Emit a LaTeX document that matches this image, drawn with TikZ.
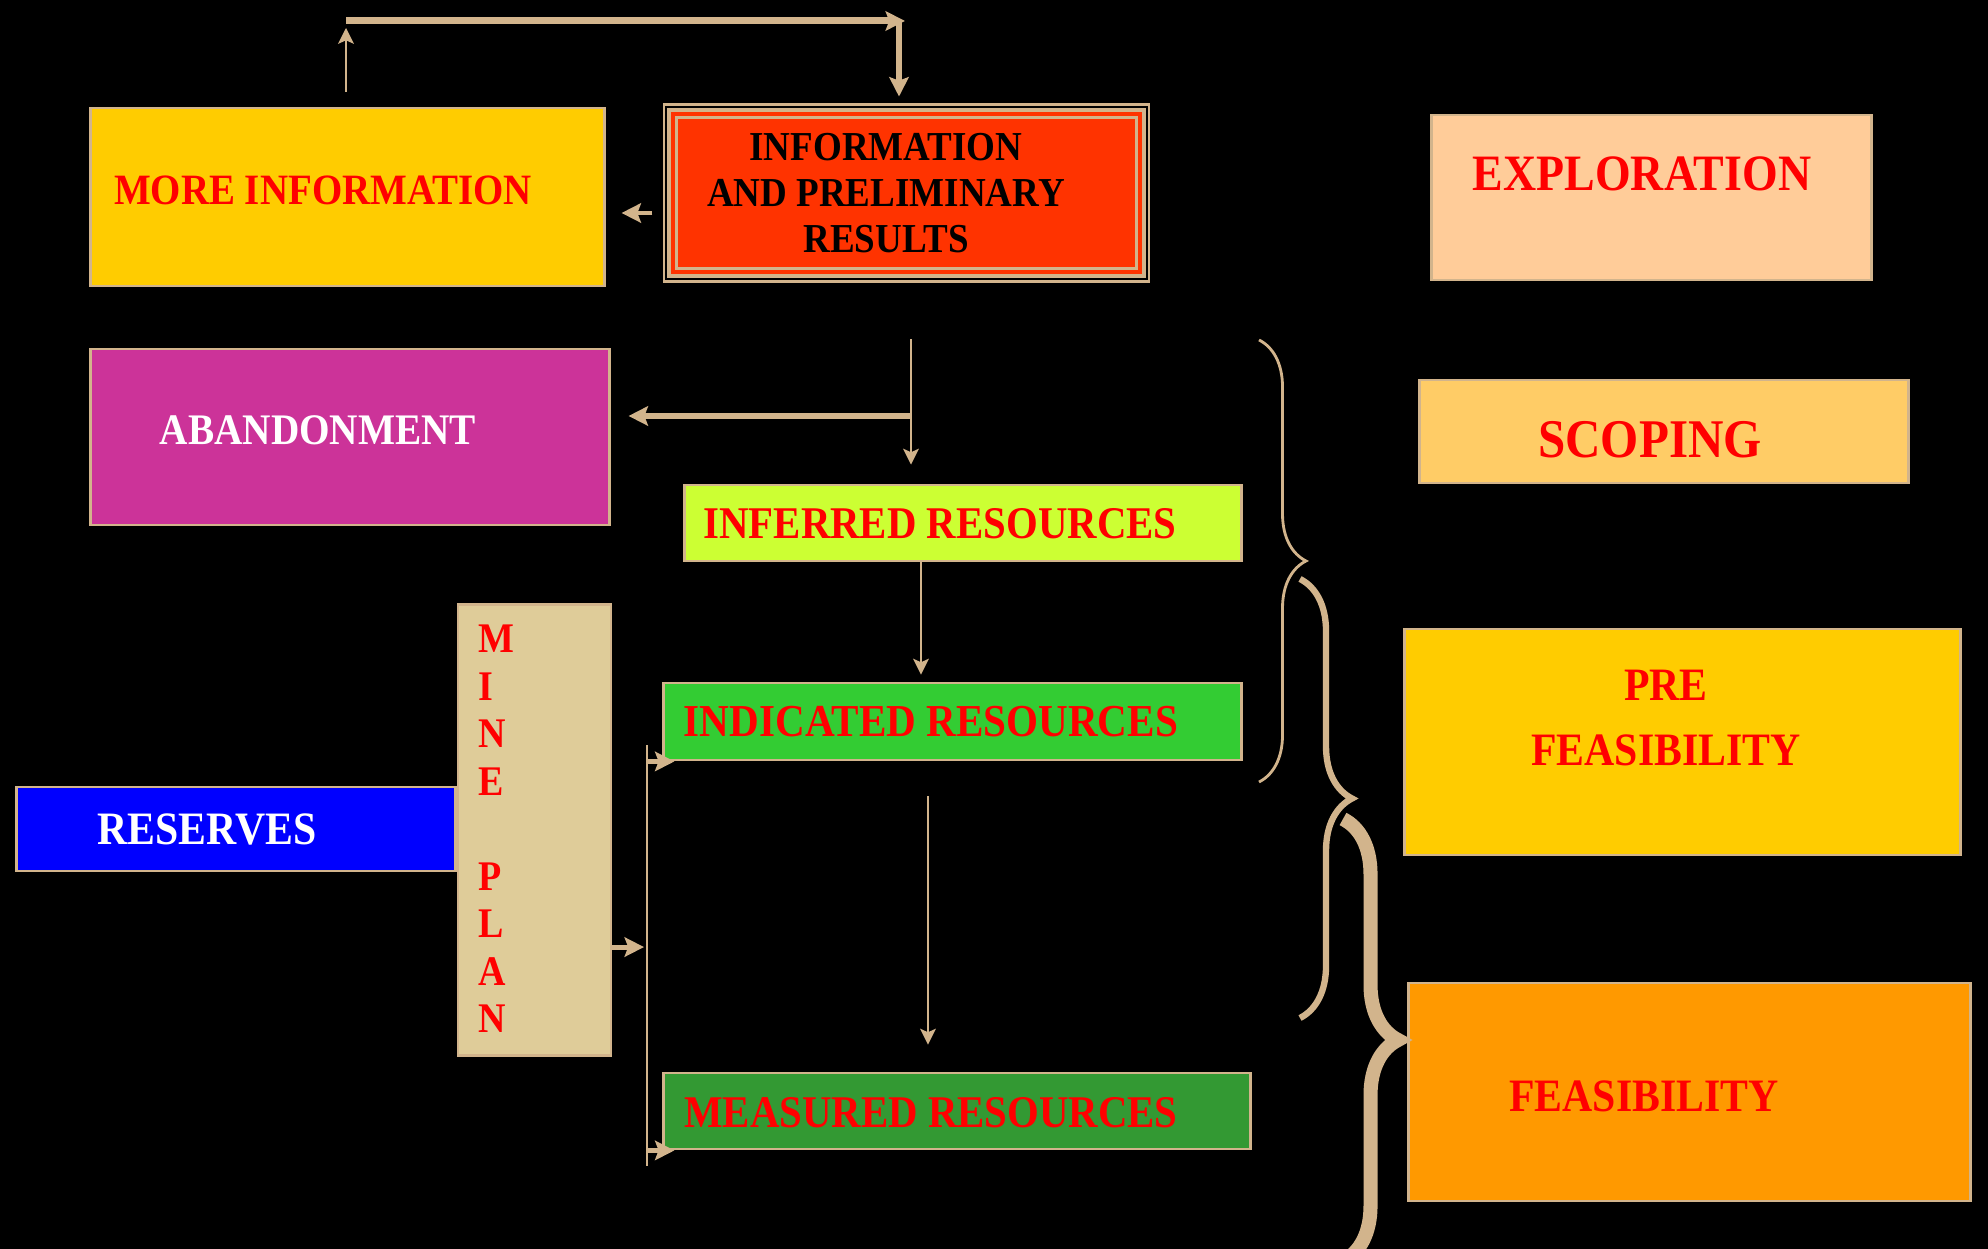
\documentclass[tikz,border=0pt]{standalone}
\usepackage{fontspec}
\setmainfont{Liberation Serif}[FakeStretch=0.9]
\usetikzlibrary{arrows.meta, decorations.pathreplacing}

\definecolor{tanline}{HTML}{D2B48C}
\definecolor{textred}{HTML}{FF0000}
\definecolor{moreyellow}{HTML}{FFCC00}
\definecolor{infored}{HTML}{FF3300}
\definecolor{explorpeach}{HTML}{FFCC99}
\definecolor{abandmagenta}{HTML}{CC3399}
\definecolor{scopingorange}{HTML}{FFCC66}
\definecolor{inferredlime}{HTML}{CCFF33}
\definecolor{minetan}{HTML}{DFCC99}
\definecolor{indicatedgreen}{HTML}{33CC33}
\definecolor{measuredgreen}{HTML}{339933}
\definecolor{reservesblue}{HTML}{0000FF}
\definecolor{feasorange}{HTML}{FF9900}

\begin{document}
\begin{tikzpicture}[x=0.01cm, y=0.01cm,
    box/.style={draw=tanline, fill=#1, line width=0.8pt, inner sep=0pt},
    lbl/.style={text=#1, inner sep=0pt, align=center},
    thinarrow/.style={-{Stealth[length=4.5pt, width=4.5pt, inset=1pt]}, line width=0.6pt, color=tanline},
    thickarrow/.style={-{Stealth[length=5.5pt, width=5.5pt, inset=1pt]}, line width=1.6pt, color=tanline},
    curly/.style={decorate, decoration={brace, amplitude=#1}, color=tanline}
  ]
  % Background
  \useasboundingbox (0,0) rectangle (1988,1249);
  \fill[black] (0,0) rectangle (1988,1249);
  \clip (0,0) rectangle (1988,1249);

  % Top row
  \node[box=moreyellow, minimum width=5.13cm, minimum height=1.78cm] (moreinfo) at (347.5,1052) {};
  \node[lbl=textred, font=\bfseries\fontsize{12.3}{14}\selectfont] (moreinfotxt) at (323,1059) {MORE INFORMATION};

  \node[box=tanline, draw=none, minimum width=4.87cm, minimum height=1.80cm] (info) at (906.5,1056) {};
  \foreach \inset/\col in {4/black, 6/tanline, 10/infored, 14/tanline, 17/infored}
    \fill[\col] ([shift={(\inset,\inset)}]info.south west) rectangle ([shift={(-\inset,-\inset)}]info.north east);
  \node[lbl=black, font=\bfseries\fontsize{11.7}{13.1}\selectfont] (infotxt) at (886,1056) {INFORMATION\\AND PRELIMINARY\\RESULTS};

  \node[box=explorpeach, minimum width=4.39cm, minimum height=1.65cm] (explor) at (1651.5,1051.5) {};
  \node[lbl=textred, font=\bfseries\fontsize{14.5}{17}\selectfont] (explortxt) at (1642,1075) {EXPLORATION};

  % Second row
  \node[box=abandmagenta, minimum width=5.18cm, minimum height=1.76cm] (aband) at (350,812) {};
  \node[lbl=white, font=\bfseries\fontsize{12.4}{14}\selectfont] (abandtxt) at (318,819) {ABANDONMENT};

  \node[box=scopingorange, minimum width=4.88cm, minimum height=1.03cm] (scoping) at (1664,817.5) {};
  \node[lbl=textred, font=\bfseries\fontsize{15.5}{18}\selectfont] (scopingtxt) at (1650,809) {SCOPING};

  % Resources
  \node[box=inferredlime, minimum width=5.56cm, minimum height=0.76cm] (inferred) at (963,726) {};
  \node[lbl=textred, font=\bfseries\fontsize{12.9}{15}\selectfont] (inferredtxt) at (940,725) {INFERRED RESOURCES};

  \node[box=indicatedgreen, minimum width=5.77cm, minimum height=0.77cm] (indicated) at (952.5,527.5) {};
  \node[lbl=textred, font=\bfseries\fontsize{13}{15}\selectfont] (indicatedtxt) at (931,527) {INDICATED RESOURCES};

  \node[box=measuredgreen, minimum width=5.86cm, minimum height=0.76cm] (measured) at (957,138) {};
  \node[lbl=textred, font=\bfseries\fontsize{12.9}{15}\selectfont] (measuredtxt) at (931,136) {MEASURED RESOURCES};

  % Mine plan and reserves
  \node[box=minetan, minimum width=1.53cm, minimum height=4.50cm] (mineplan) at (534.5,419) {};
  \node[lbl=textred, align=left, anchor=west, font=\bfseries\fontsize{12}{13.5}\selectfont] (mineplantxt) at (478,420) {M\\I\\N\\E\\[13.5pt]P\\L\\A\\N};

  \node[box=reservesblue, minimum width=4.38cm, minimum height=0.84cm] (reserves) at (236,420) {};
  \node[lbl=white, font=\bfseries\fontsize{13.2}{15}\selectfont] (reservestxt) at (207,420) {RESERVES};

  % Study stages
  \node[box=moreyellow, minimum width=5.55cm, minimum height=2.26cm] (prefeas) at (1682.5,507) {};
  \node[lbl=textred, font=\bfseries\fontsize{13.2}{18.5}\selectfont] (prefeastxt) at (1666,530.5) {PRE\\FEASIBILITY};

  \node[box=feasorange, minimum width=5.61cm, minimum height=2.18cm] (feas) at (1689.5,157) {};
  \node[lbl=textred, font=\bfseries\fontsize{13.2}{15}\selectfont] (feastxt) at (1644,153) {FEASIBILITY};

  % Braces
  \draw[curly=0.47cm, line width=0.8pt] (1259,909) -- (1259,467);
  \draw[curly=0.52cm, line width=1.8pt] (1300,670) -- (1300,231);
  \draw[curly=0.55cm, line width=4pt] (1343,430) -- (1343,-12);

  % Feedback loop
  \coordinate (loopleft) at (346,1228);
  \coordinate (loopright) at (899,1228);
  \draw[thinarrow, shorten <=0.15cm, shorten >=0.07cm] (moreinfo.north -| loopleft) -- (loopleft);
  \draw[thickarrow, line width=2pt] (loopleft) -- ([xshift=0.06cm]loopright);
  \draw[thickarrow, shorten >=0.05cm] (loopright) -- (loopright |- info.north);

  \coordinate (infoout) at ([yshift=-0.2cm]info.west);
  \draw[thickarrow, line width=1.1pt, shorten <=0.09cm, shorten >=0.16cm] (infoout) -- (infoout -| moreinfo.east);

  % Down the resources
  \coordinate (split) at (911,833);
  \draw[thinarrow, shorten <=0.55cm, shorten >=0.19cm] (split |- info.south) -- (split |- inferred.north);
  \draw[thickarrow, shorten >=0.18cm] (split) -- (split -| aband.east);

  \coordinate (infdown) at ([xshift=-0.42cm]inferred.south);
  \draw[thinarrow, shorten >=0.07cm] (infdown) -- (infdown |- indicated.north);

  \coordinate (inddown) at ([xshift=-0.245cm]indicated.south);
  \draw[thinarrow, shorten <=0.35cm, shorten >=0.27cm] (inddown) -- (inddown |- measured.north);

  % Mine plan feed
  \coordinate (bustop) at (647,504);
  \coordinate (busbot) at (647,83);
  \draw[tanline, line width=0.6pt] (bustop) -- (busbot);
  \draw[thickarrow, line width=1.4pt] (bustop |- indicated.south west) -- ([xshift=0.12cm]indicated.south west);
  \draw[thickarrow, line width=1.4pt] (busbot |- measured.south west) -- ([xshift=0.12cm]measured.south west);

  \coordinate (mpout) at ([yshift=-1.17cm]mineplan.east);
  \draw[thickarrow, line width=1.4pt, shorten >=0.03cm] (mpout) -- (mpout -| bustop);
\end{tikzpicture}
\end{document}
